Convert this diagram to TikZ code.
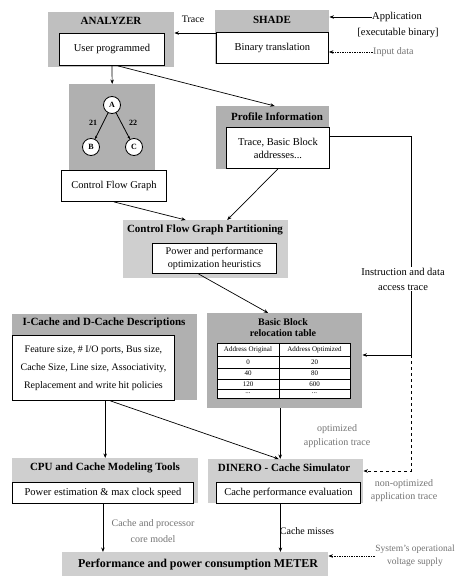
\documentclass[tikz,border=0pt]{standalone}
\usepackage{fontspec}
\setmainfont{Liberation Serif}
\usetikzlibrary{arrows.meta}
\begin{document}
\begin{tikzpicture}[x=1pt,y=-1pt,
  blk/.style={fill=gray!50, draw=none, anchor=north west, inner sep=0pt},
  blkd/.style={blk, fill=gray!62},
  blkl/.style={blk, fill=gray!38},
  hdr/.style={font=\bfseries\fontsize{11}{12}\selectfont, inner sep=0pt, align=center},
  inbox/.style={draw=black, line width=0.9pt, fill=white, anchor=north west, inner sep=0pt, align=center, font=\fontsize{10.5}{13}\selectfont},
  lbl/.style={font=\fontsize{9.5}{14}\selectfont, inner sep=0pt, align=center},
  glbl/.style={lbl, text=black!55},
  arr/.style={-{Stealth[length=4.5pt,width=3.5pt]}, line width=0.7pt},
  smallarr/.style={-{Stealth[length=3pt,width=2.5pt]}, line width=0.8pt},
  circ/.style={circle, draw=black, fill=white, line width=0.8pt, minimum size=17pt, inner sep=0pt, font=\bfseries\fontsize{8}{8}\selectfont},
  cell/.style={font=\fontsize{7}{8}\selectfont, inner sep=0pt}
]
\useasboundingbox (0,0) rectangle (455,580);

% ANALYZER
\node[blk, minimum width=126pt, minimum height=55pt] (ana) at (48,12) {};
\node[hdr] (anah) at (111,21) {ANALYZER};
\node[inbox, minimum width=105pt, minimum height=32pt] (anain) at (59,33) {User programmed};

% SHADE
\node[blk, minimum width=114pt, minimum height=54pt] (sha) at (215,10) {};
\node[hdr] (shah) at (272,20) {SHADE};
\node[inbox, minimum width=112pt, minimum height=31pt] (shain) at (216,32) {Binary translation};

\draw[arr] (shain.west |- 0,33) -- (ana.east |- 0,33);
\node[lbl, font=\fontsize{10}{12}\selectfont] (trace) at (193,19) {Trace};

\node[lbl, font=\fontsize{10.5}{12}\selectfont] (app1) at (397,17) {Application};
\node[lbl, font=\fontsize{10.5}{12}\selectfont] (app2) at (398,33) {[executable binary]};
\draw[arr] (app1.west) -- (sha.east |- app1.west);

\node[glbl, anchor=west, font=\fontsize{10}{12}\selectfont] (inp) at (373,52) {Input data};
\draw[arr, densely dotted] (inp.west) -- (shain.east |- inp.west);

% CFG
\node[blkd, minimum width=86pt, minimum height=86pt] (cfg) at (69,84) {};
\draw[arr] (anain.south) -- (cfg.north);
\node[circ] (A) at (112,105) {A};
\node[circ] (B) at (91,147) {B};
\node[circ] (C) at (134,147) {C};
\draw[smallarr] (A) -- (B);
\draw[smallarr] (A) -- (C);
\node[hdr, font=\bfseries\fontsize{8}{8}\selectfont] (l21) at (93,123) {21};
\node[hdr, font=\bfseries\fontsize{8}{8}\selectfont] (l22) at (133,123) {22};
\node[inbox, minimum width=105pt, minimum height=31pt] (cfgt) at (61,170) {Control Flow Graph};

% Profile
\node[blkd, minimum width=113pt, minimum height=63pt] (prof) at (216,106) {};
\node[hdr] (profh) at (277,117) {Profile Information};
\node[inbox, minimum width=103pt, minimum height=41pt] (profin) at (226,127) {Trace, Basic Block\\addresses...};
\draw[arr] ([xshift=6pt]anain.south) -- ([xshift=2pt]prof.north);

% Partitioning
\node[blkl, minimum width=165pt, minimum height=58pt] (part) at (123,220) {};
\node[hdr] (parth) at (205,230) {Control Flow Graph Partitioning};
\node[inbox, minimum width=124pt, minimum height=30pt, font=\fontsize{10.2}{12.5}\selectfont] (partin) at (152,243) {Power and performance\\optimization heuristics};
\draw[arr] (cfgt.south) -- ([xshift=-20pt]part.north);
\draw[arr] (profin.south) -- ([xshift=21.5pt]part.north);

% Basic block table
\node[blkd, minimum width=155pt, minimum height=95pt] (bb) at (207,313) {};
\node[hdr, font=\bfseries\fontsize{10}{11}\selectfont] (bbh) at (283,328) {Basic Block\\relocation table};
\node[draw=black, line width=0.9pt, fill=white, anchor=north west, minimum width=133pt, minimum height=55pt, inner sep=0pt] (tbl) at (217,343) {};
\draw[line width=0.7pt] (217,356) -- (350,356);
\draw[line width=0.7pt] (217,368) -- (350,368);
\draw[line width=0.7pt] (217,379) -- (350,379);
\draw[line width=0.7pt] (217,389) -- (350,389);
\draw[line width=0.7pt] (279,343) -- (279,398);
\node[cell] (h1) at (248,350) {Address Original};
\node[cell] (h2) at (314.5,350) {Address Optimized};
\node[cell] (r11) at (248,362) {0};
\node[cell] (r12) at (314.5,362) {20};
\node[cell] (r21) at (248,373.5) {40};
\node[cell] (r22) at (314.5,373.5) {80};
\node[cell] (r31) at (248,384) {120};
\node[cell] (r32) at (314.5,384) {600};
\node[cell] (r41) at (248,393) {...};
\node[cell] (r42) at (314.5,393) {...};
\draw[arr] ([xshift=-16pt]partin.south) -- ([xshift=-16.5pt]bb.north);

% I-Cache
\node[blkd, minimum width=185pt, minimum height=86pt] (ic) at (12,314) {};
\node[hdr] (ich) at (104,323) {I-Cache and D-Cache Descriptions};
\node[inbox, minimum width=162pt, minimum height=65pt, font=\fontsize{10}{18}\selectfont] (icin) at (12,335) {Feature size, \# I/O ports, Bus size,\\Cache Size, Line size, Associativity,\\Replacement and write hit policies};

% Instruction trace path
\coordinate (k1) at (411,136);
\coordinate (k2) at (411,355);
\coordinate (k3) at (411,471);
\draw[arr] (profin.east |- k1) -- (k1) -- (k2) -- (bb.east |- k2);
\node[lbl, fill=white, inner sep=1pt, font=\fontsize{10.5}{15}\selectfont] (instr) at (403,279) {Instruction and data\\access trace};

% CPU
\node[blkl, minimum width=186pt, minimum height=45pt] (cpu) at (12,458) {};
\node[hdr] (cpuh) at (105,468) {CPU and Cache Modeling Tools};
\node[inbox, minimum width=181pt, minimum height=21pt] (cpuin) at (12,482) {Power estimation \& max clock speed};

% DINERO
\node[blkl, minimum width=155pt, minimum height=44pt] (din) at (208,459) {};
\node[hdr] (dinh) at (284,468) {DINERO - Cache Simulator};
\node[inbox, minimum width=144pt, minimum height=21pt] (dinin) at (216,482) {Cache performance evaluation};

\draw[arr, dashed] (k2) -- (k3) -- (din.east |- k3);
\draw[arr] (cpu.north |- icin.south) -- (cpu.north);
\draw[arr] ([xshift=17pt]icin.south) -- ([xshift=-7pt]din.north);
\draw[arr] ([xshift=-4.5pt]bb.south) -- ([xshift=-4.5pt]bb.south |- din.north);
\node[glbl, font=\fontsize{10}{14}\selectfont] (opt) at (337,436) {optimized\\application trace};
\node[glbl, font=\fontsize{10}{13}\selectfont] (nonopt) at (404,491) {non-optimized\\application trace};

% METER
\node[blkl, minimum width=266pt, minimum height=24pt] (met) at (62,552) {};
\node[hdr, font=\bfseries\fontsize{12}{13}\selectfont] (meth) at (198,565) {Performance and power consumption METER};

\draw[arr] (cpuin.south) -- (cpuin.south |- met.north);
\draw[arr] ([xshift=-8pt]dinin.south) -- ([xshift=-8pt]dinin.south |- met.north);
\node[glbl, font=\fontsize{10}{16}\selectfont] (cpm) at (153,531) {Cache and processor\\core model};
\node[lbl, font=\fontsize{10}{12}\selectfont] (miss) at (307,531) {Cache misses};
\node[glbl, font=\fontsize{9.5}{13}\selectfont] (sys) at (415,556) {System's operational\\voltage supply};
\draw[arr, densely dotted] (sys.west) -- (met.east |- sys.west);
\end{tikzpicture}
\end{document}
